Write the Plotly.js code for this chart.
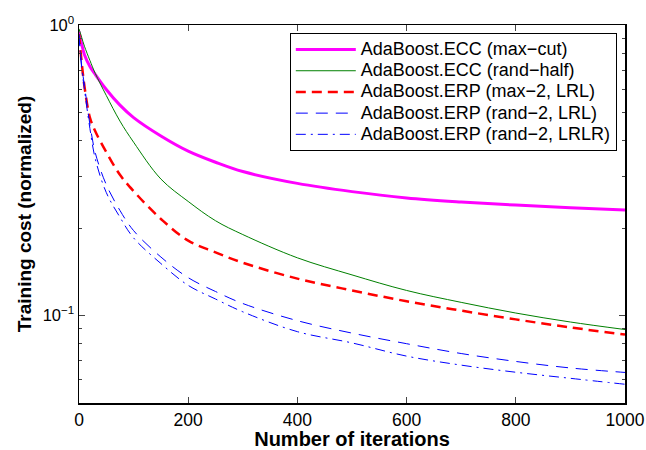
<!DOCTYPE html>
<html>
<head>
<meta charset="utf-8">
<script src="https://cdn.plot.ly/plotly-3.0.1.min.js"></script>
<style>html,body{margin:0;padding:0;background:#fff;}#chart{width:646px;height:450px;}</style>
</head>
<body>
<div id="chart"></div>
<script>
const iterations = [0, 5, 10, 20, 30, 50, 75, 100, 150, 200, 250, 300, 400, 500, 600, 700, 800, 900, 1000];
const eccMaxCut    = [0.95, 0.86, 0.79, 0.72, 0.675, 0.6, 0.53, 0.48, 0.415, 0.368, 0.337, 0.313, 0.285, 0.267, 0.254, 0.246, 0.24, 0.235, 0.231];
const eccRandHalf  = [0.97, 0.905, 0.845, 0.755, 0.68, 0.572, 0.467, 0.395, 0.295, 0.247, 0.212, 0.19, 0.158, 0.138, 0.122, 0.111, 0.102, 0.095, 0.0895];
const erpMax2LRL   = [0.93, 0.74, 0.615, 0.48, 0.43, 0.365, 0.305, 0.268, 0.215, 0.181, 0.165, 0.152, 0.134, 0.122, 0.112, 0.104, 0.097, 0.091, 0.086];
const erpRand2LRL  = [0.93, 0.72, 0.62, 0.455, 0.362, 0.282, 0.23, 0.196, 0.159, 0.135, 0.121, 0.11, 0.096, 0.087, 0.08, 0.074, 0.0695, 0.066, 0.0637];
const erpRand2LRLR = [0.92, 0.71, 0.6, 0.44, 0.345, 0.265, 0.218, 0.185, 0.151, 0.127, 0.114, 0.103, 0.088, 0.0805, 0.0725, 0.0675, 0.0638, 0.0608, 0.058];
const seriesNames = ['AdaBoost.ECC (max\u2212cut)', 'AdaBoost.ECC (rand\u2212half)', 'AdaBoost.ERP (max\u22122, LRL)', 'AdaBoost.ERP (rand\u22122, LRL)', 'AdaBoost.ERP (rand\u22122, LRLR)'];
const xTickVals = [0, 200, 400, 600, 800, 1000];
const yTickVals = [0.1, 1];
const yTickText = ['10<sup>\u22121</sup>', '10<sup>0</sup>'];
const yMinorVals = [0.06, 0.07, 0.08, 0.09, 0.2, 0.3, 0.4, 0.5, 0.6, 0.7, 0.8, 0.9];

const styles = [
  {color: '#ff00ff', width: 3, dash: 'solid'},
  {color: '#008000', width: 1, dash: 'solid'},
  {color: '#ff0000', width: 2.5, dash: '10px,6px'},
  {color: '#0000ff', width: 1, dash: '12px,8px'},
  {color: '#0000ff', width: 1, dash: '10px,5px,2px,5px'}
];
const ys = [eccMaxCut, eccRandHalf, erpMax2LRL, erpRand2LRL, erpRand2LRLR];
const traces = ys.map((y, i) => ({
  x: iterations, y: y, type: 'scatter', mode: 'lines',
  name: '<span style="font-size:18px">' + seriesNames[i] + '</span>',
  line: {color: styles[i].color, width: styles[i].width, dash: styles[i].dash, shape: 'spline', smoothing: 1}
}));

const font = {family: 'Liberation Sans, Arial, sans-serif', color: '#000'};
const layout = {
  width: 646, height: 450,
  margin: {l: 78.5, r: 21, t: 25, b: 47},
  paper_bgcolor: '#fff', plot_bgcolor: '#fff',
  font: Object.assign({size: 16}, font),
  showlegend: true,
  legend: {
    x: 0.985, y: 0.979, xanchor: 'right', yanchor: 'top',
    bgcolor: '#fff', bordercolor: '#000', borderwidth: 1,
    font: Object.assign({size: 14}, font),
    tracegroupgap: 0, itemwidth: 60
  },
  xaxis: {
    range: [0, 1000], tickvals: xTickVals, ticks: 'inside', ticklen: 6, tickwidth: 1,
    showline: true, linecolor: '#000', linewidth: 1.5, mirror: 'ticks', showgrid: false, zeroline: false,
    tickfont: Object.assign({size: 17.5}, font),
    title: {text: '<b>Number of iterations</b>', font: Object.assign({size: 20}, font), standoff: 2}
  },
  yaxis: {
    type: 'log', range: [Math.log10(0.05), 0], tickvals: yTickVals, ticktext: yTickText,
    ticks: 'inside', ticklen: 6, tickwidth: 1,
    minor: {tickvals: yMinorVals, ticks: 'inside', ticklen: 3, showgrid: false},
    showline: true, linecolor: '#000', linewidth: 1.5, mirror: 'ticks', showgrid: false, zeroline: false,
    tickfont: Object.assign({size: 16.5}, font),
    title: {text: '<b>Training cost (normalized)</b>', font: Object.assign({size: 19}, font), standoff: 6}
  }
};
Plotly.newPlot('chart', traces, layout, {displayModeBar: false, staticPlot: true});
</script>
</body>
</html>
